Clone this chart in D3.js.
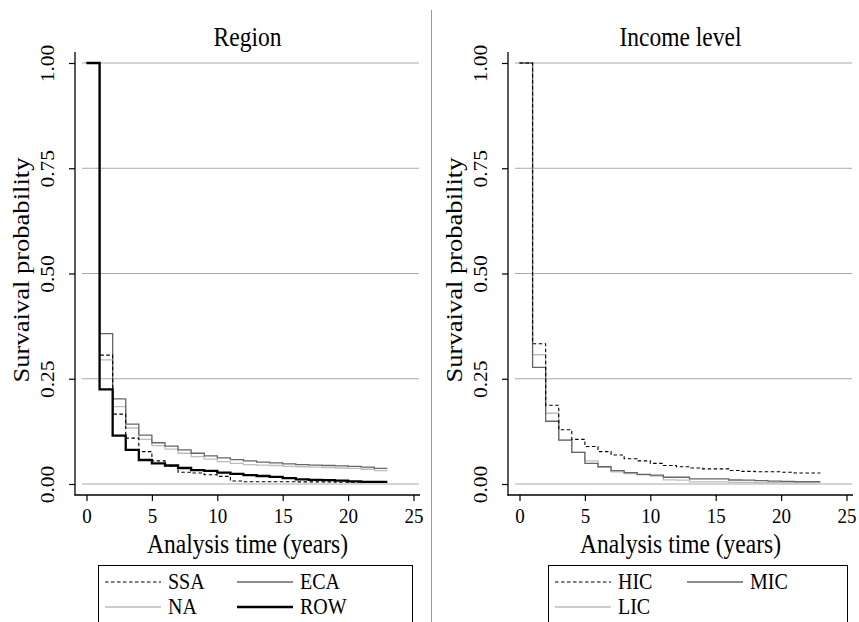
<!DOCTYPE html>
<html>
<head>
<meta charset="utf-8">
<script src="https://cdn.jsdelivr.net/npm/d3@7"></script>
<style>
  body { margin: 0; background: #fff; }
  svg { display: block; font-family: "Liberation Serif", "Times New Roman", serif; }
</style>
</head>
<body>
<svg id="chart" width="859" height="622"></svg>
<script>
// Step times (years) — each value holds from its time to the next one
const years = [0, 1, 2, 3, 4, 5, 6, 7, 8, 9, 10, 11, 12, 13, 14, 15, 16, 17, 18, 19, 20, 21, 22, 23];
const xTicks = [0, 5, 10, 15, 20, 25];
const yTicks = [0, 0.25, 0.5, 0.75, 1];

// Region panel
const ssa = [1, .306, .166, .109, .077, .055, .042, .028, .026, .022, .018, .007, .0055, .0055, .0055, .0055, .005, .005, .005, .004, .004, .004, .004, .004];
const eca = [1, .357, .202, .142, .116, .098, .090, .081, .073, .067, .062, .058, .055, .052, .050, .048, .046, .045, .044, .043, .042, .040, .037, .037];
const na  = [1, .295, .184, .133, .106, .091, .083, .073, .065, .059, .053, .049, .046, .045, .044, .042, .041, .040, .039, .038, .037, .035, .032, .032];
const row = [1, .225, .115, .081, .057, .049, .044, .038, .033, .031, .027, .024, .021, .019, .017, .014, .011, .010, .009, .008, .006, .005, .005, .005];

// Income level panel
const hic = [1, .333, .187, .129, .106, .089, .077, .069, .060, .055, .049, .044, .041, .038, .036, .036, .032, .030, .029, .029, .028, .026, .026, .026];
const mic = [1, .277, .149, .104, .075, .049, .041, .032, .027, .023, .021, .016, .016, .012, .012, .012, .0095, .009, .008, .007, .006, .0055, .0055, .0055];
const lic = [1, .307, .168, .104, .075, .055, .041, .029, .025, .022, .019, .010, .009, .005, .005, .005, .004, .004, .003, .003, .003, .003, .003, .003];

const styles = {
  dash:  { stroke: "#000", width: 1.1, dash: "3.5,2.5" },
  dark:  { stroke: "#666", width: 1.3, dash: null },
  light: { stroke: "#bdbdbd", width: 1.3, dash: null },
  thick: { stroke: "#000", width: 2.3, dash: null }
};

// the original text is drawn a little taller than wide
const stretch = 1.13;

const panels = [
  {
    title: "Region", dx: 0,
    series: [
      { name: "NA", values: na, style: "light" },
      { name: "ECA", values: eca, style: "dark" },
      { name: "ROW", values: row, style: "thick" },
      { name: "SSA", values: ssa, style: "dash" }
    ],
    legend: [["SSA", "dash"], ["ECA", "dark"], ["NA", "light"], ["ROW", "thick"]],
    legendBox: [98, 412]
  },
  {
    title: "Income level", dx: 433,
    series: [
      { name: "LIC", values: lic, style: "light" },
      { name: "MIC", values: mic, style: "dark" },
      { name: "HIC", values: hic, style: "dash" }
    ],
    legend: [["HIC", "dash"], ["MIC", "dark"], ["LIC", "light"]],
    legendBox: [548, 847]
  }
];

const svg = d3.select("#chart");

// divider between the two graphs
svg.append("line")
  .attr("x1", 431.5).attr("x2", 431.5)
  .attr("y1", 10).attr("y2", 622)
  .attr("stroke", "#9a9a9a").attr("stroke-width", 1);

function label(parent, x, y, txt, size, anchor, rotate) {
  return parent.append("text")
    .attr("transform", `translate(${x},${y}) scale(1,${stretch})` + (rotate ? " rotate(-90)" : ""))
    .attr("text-anchor", anchor)
    .attr("font-size", size)
    .attr("fill", "#000")
    .text(txt);
}

function drawPanel(p) {
  const g = svg.append("g").attr("transform", `translate(${p.dx},0)`);

  const x = d3.scaleLinear().domain([0, 25]).range([86.5, 413.5]);
  const y = d3.scaleLinear().domain([0, 1]).range([484, 63]);

  // gridlines
  g.selectAll(".grid")
    .data(yTicks)
    .enter()
    .append("line")
    .attr("x1", 82).attr("x2", 419)
    .attr("y1", d => y(d)).attr("y2", d => y(d))
    .attr("stroke", "#a8a8a8").attr("stroke-width", 1);

  // axes
  const xAxis = g.append("g")
    .attr("transform", "translate(0,495)")
    .call(d3.axisBottom(x).tickValues(xTicks).tickSize(6).tickFormat(d3.format("d")));
  xAxis.select(".domain").remove();
  xAxis.selectAll("line").attr("stroke", "#000").attr("stroke-width", 1.2);
  xAxis.selectAll("text")
    .attr("font-family", "Liberation Serif").attr("font-size", 19)
    .attr("fill", "#000").attr("dy", 0).attr("y", 0)
    .attr("transform", `translate(0,28) scale(1,${stretch})`);

  const yAxis = g.append("g")
    .attr("transform", "translate(75,0)")
    .call(d3.axisLeft(y).tickValues(yTicks).tickSize(6).tickFormat(d3.format(".2f")));
  yAxis.select(".domain").remove();
  yAxis.selectAll("line").attr("stroke", "#000").attr("stroke-width", 1.2);
  yAxis.selectAll("text")
    .attr("font-family", "Liberation Serif").attr("font-size", 19)
    .attr("fill", "#000")
    .attr("x", 0).attr("y", 0).attr("dy", 0)
    .attr("transform", `translate(-21,0) scale(1,${stretch}) rotate(-90)`)
    .attr("text-anchor", "middle");

  g.append("line").attr("x1", 75).attr("x2", 75).attr("y1", 52).attr("y2", 495.5)
    .attr("stroke", "#000").attr("stroke-width", 1.3);
  g.append("line").attr("x1", 74.5).attr("x2", 420).attr("y1", 495).attr("y2", 495)
    .attr("stroke", "#000").attr("stroke-width", 1.3);

  // survival curves
  const line = d3.line()
    .x((d, i) => x(years[i]))
    .y(d => y(d))
    .curve(d3.curveStepAfter);

  p.series.forEach(s => {
    const st = styles[s.style];
    g.append("path")
      .datum(s.values)
      .attr("d", line)
      .attr("fill", "none")
      .attr("stroke", st.stroke)
      .attr("stroke-width", st.width)
      .attr("stroke-dasharray", st.dash);
  });

  // titles
  label(g, 247.5, 46, p.title, 23.5, "middle", false);
  label(g, 29, 270, "Survaival probability", 23.5, "middle", true);
  label(g, 247.5, 553, "Analysis time (years)", 23.5, "middle", false);

  // legend
  const [lx0, lx1] = p.legendBox;
  const lg = svg.append("g");
  lg.append("rect")
    .attr("x", lx0 + 0.5).attr("y", 565.5)
    .attr("width", lx1 - lx0).attr("height", 70)
    .attr("fill", "none").attr("stroke", "#000").attr("stroke-width", 1);

  p.legend.forEach((item, i) => {
    const col = i % 2, rowIdx = Math.floor(i / 2);
    const ox = lx0 + 7 + col * 132;
    const oy = 582 + rowIdx * 25;
    const st = styles[item[1]];
    lg.append("line")
      .attr("x1", ox).attr("x2", ox + 56)
      .attr("y1", oy).attr("y2", oy)
      .attr("stroke", st.stroke)
      .attr("stroke-width", st.width)
      .attr("stroke-dasharray", st.dash);
    label(lg, ox + 63, oy + 7, item[0], 20, "start", false);
  });
}

panels.forEach(drawPanel);
</script>
</body>
</html>
